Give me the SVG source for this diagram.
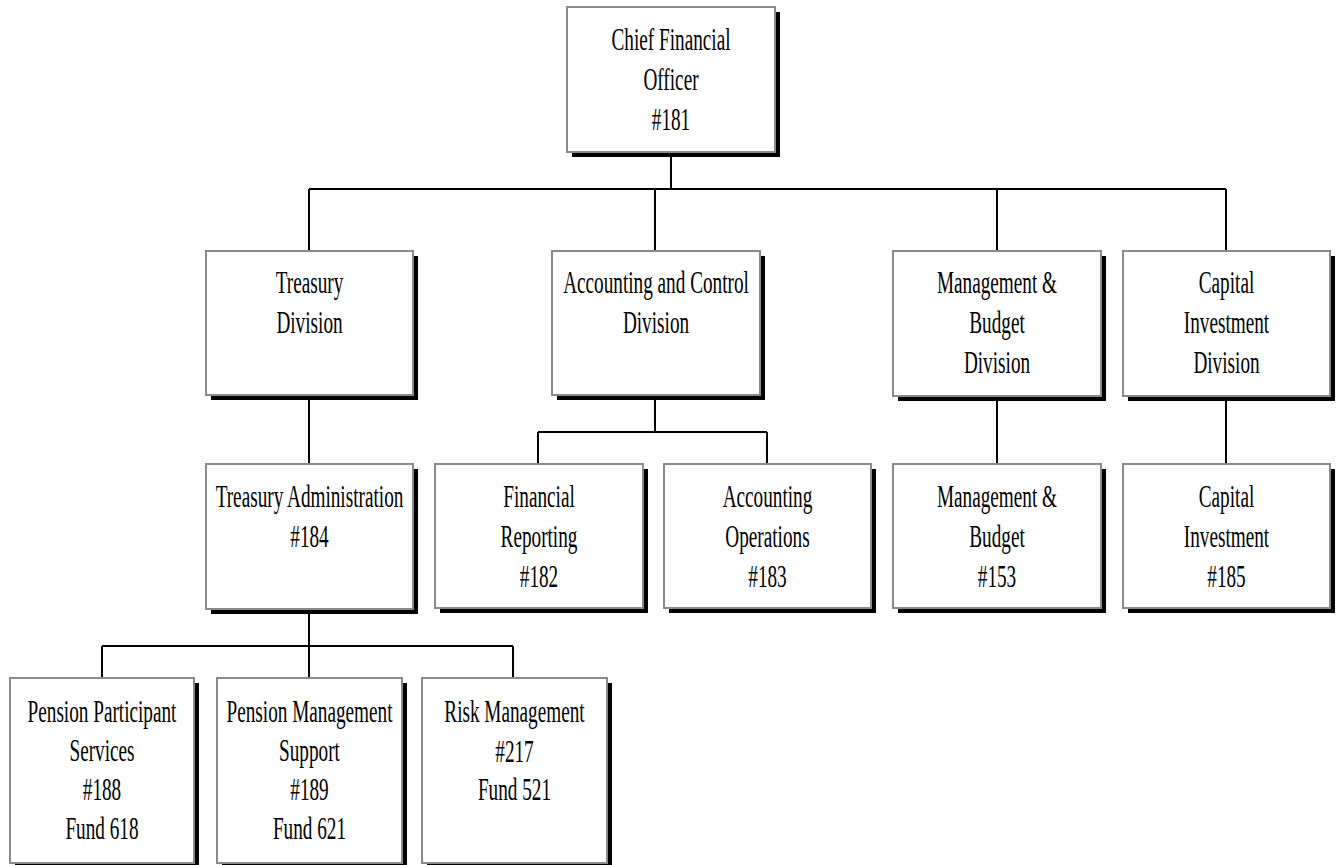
<svg xmlns="http://www.w3.org/2000/svg" width="1339" height="865" viewBox="0 0 1339 865">
  <style>
    .shadow { fill: #000; }
    .box { fill: #fff; stroke: #8a8a8a; stroke-width: 2; }
    .lbl { font-family: "Liberation Serif", "Times New Roman", serif; font-size: 31px; fill: #000; text-anchor: middle; }
    .conn { fill: none; stroke: #000; stroke-width: 2; }
  </style>
  <rect width="1339" height="865" fill="#fff"/>

  <!-- connectors -->
  <g id="connectors" class="conn">
    <path d="M671 152 V189 M309 189 H1226 M309 189 V251 M655 189 V251 M997 189 V251 M1226 189 V251"/>
    <path d="M309 395 V464"/>
    <path d="M655 395 V432 M538 432 H767 M538 432 V464 M767 432 V464"/>
    <path d="M997 396 V464 M1226 396 V464"/>
    <path d="M309 609 V646 M102 646 H513 M102 646 V678 M309 646 V678 M513 646 V678"/>
  </g>

  <!-- level 1 -->
  <g id="cfo">
    <rect class="shadow" x="572" y="12" width="208" height="145"/>
    <rect class="box" x="567" y="7" width="208" height="145"/>
    <g transform="translate(671 0) scale(0.62 1)">
      <text class="lbl"><tspan x="0" y="50">Chief Financial</tspan><tspan x="0" y="90">Officer</tspan><tspan x="0" y="130">#181</tspan></text>
    </g>
  </g>

  <!-- level 2: divisions -->
  <g id="treasury-division">
    <rect class="shadow" x="211" y="256" width="207" height="144"/>
    <rect class="box" x="206" y="251" width="207" height="144"/>
    <g transform="translate(309.5 0) scale(0.62 1)">
      <text class="lbl"><tspan x="0" y="293">Treasury</tspan><tspan x="0" y="333">Division</tspan></text>
    </g>
  </g>

  <g id="accounting-division">
    <rect class="shadow" x="557" y="256" width="208" height="144"/>
    <rect class="box" x="552" y="251" width="208" height="144"/>
    <g transform="translate(656 0) scale(0.62 1)">
      <text class="lbl"><tspan x="0" y="293">Accounting and Control</tspan><tspan x="0" y="333">Division</tspan></text>
    </g>
  </g>

  <g id="budget-division">
    <rect class="shadow" x="898" y="256" width="208" height="145"/>
    <rect class="box" x="893" y="251" width="208" height="145"/>
    <g transform="translate(997 0) scale(0.62 1)">
      <text class="lbl"><tspan x="0" y="293">Management &amp;</tspan><tspan x="0" y="333">Budget</tspan><tspan x="0" y="373">Division</tspan></text>
    </g>
  </g>

  <g id="capital-division">
    <rect class="shadow" x="1128" y="256" width="207" height="145"/>
    <rect class="box" x="1123" y="251" width="207" height="145"/>
    <g transform="translate(1226.5 0) scale(0.62 1)">
      <text class="lbl"><tspan x="0" y="293">Capital</tspan><tspan x="0" y="333">Investment</tspan><tspan x="0" y="373">Division</tspan></text>
    </g>
  </g>

  <!-- level 3: units -->
  <g id="treasury-admin">
    <rect class="shadow" x="211" y="469" width="207" height="145"/>
    <rect class="box" x="206" y="464" width="207" height="145"/>
    <g transform="translate(309.5 0) scale(0.62 1)">
      <text class="lbl"><tspan x="0" y="507">Treasury Administration</tspan><tspan x="0" y="547">#184</tspan></text>
    </g>
  </g>

  <g id="financial-reporting">
    <rect class="shadow" x="440" y="469" width="208" height="144"/>
    <rect class="box" x="435" y="464" width="208" height="144"/>
    <g transform="translate(539 0) scale(0.62 1)">
      <text class="lbl"><tspan x="0" y="507">Financial</tspan><tspan x="0" y="547">Reporting</tspan><tspan x="0" y="587">#182</tspan></text>
    </g>
  </g>

  <g id="accounting-operations">
    <rect class="shadow" x="669" y="469" width="207" height="144"/>
    <rect class="box" x="664" y="464" width="207" height="144"/>
    <g transform="translate(767.5 0) scale(0.62 1)">
      <text class="lbl"><tspan x="0" y="507">Accounting</tspan><tspan x="0" y="547">Operations</tspan><tspan x="0" y="587">#183</tspan></text>
    </g>
  </g>

  <g id="management-budget">
    <rect class="shadow" x="898" y="469" width="208" height="144"/>
    <rect class="box" x="893" y="464" width="208" height="144"/>
    <g transform="translate(997 0) scale(0.62 1)">
      <text class="lbl"><tspan x="0" y="507">Management &amp;</tspan><tspan x="0" y="547">Budget</tspan><tspan x="0" y="587">#153</tspan></text>
    </g>
  </g>

  <g id="capital-investment">
    <rect class="shadow" x="1128" y="469" width="207" height="144"/>
    <rect class="box" x="1123" y="464" width="207" height="144"/>
    <g transform="translate(1226.5 0) scale(0.62 1)">
      <text class="lbl"><tspan x="0" y="507">Capital</tspan><tspan x="0" y="547">Investment</tspan><tspan x="0" y="587">#185</tspan></text>
    </g>
  </g>

  <!-- level 4: treasury sections -->
  <g id="pension-participant">
    <rect class="shadow" x="15" y="683" width="184" height="185"/>
    <rect class="box" x="10" y="678" width="184" height="185"/>
    <g transform="translate(102 0) scale(0.62 1)">
      <text class="lbl"><tspan x="0" y="722">Pension Participant</tspan><tspan x="0" y="761">Services</tspan><tspan x="0" y="800">#188</tspan><tspan x="0" y="839">Fund 618</tspan></text>
    </g>
  </g>

  <g id="pension-management">
    <rect class="shadow" x="222" y="683" width="185" height="185"/>
    <rect class="box" x="217" y="678" width="185" height="185"/>
    <g transform="translate(309.5 0) scale(0.62 1)">
      <text class="lbl"><tspan x="0" y="722">Pension Management</tspan><tspan x="0" y="761">Support</tspan><tspan x="0" y="800">#189</tspan><tspan x="0" y="839">Fund 621</tspan></text>
    </g>
  </g>

  <g id="risk-management">
    <rect class="shadow" x="427" y="683" width="185" height="185"/>
    <rect class="box" x="422" y="678" width="185" height="185"/>
    <g transform="translate(514.5 0) scale(0.62 1)">
      <text class="lbl"><tspan x="0" y="722">Risk Management</tspan><tspan x="0" y="762">#217</tspan><tspan x="0" y="800">Fund 521</tspan></text>
    </g>
  </g>
</svg>
